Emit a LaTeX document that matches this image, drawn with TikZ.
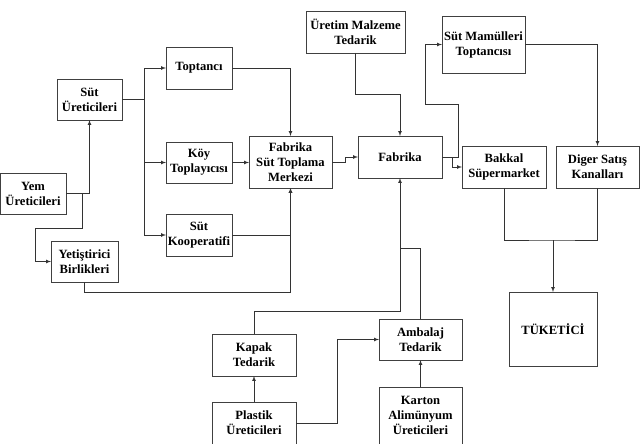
\documentclass[tikz,border=0pt]{standalone}
\usepackage{fontspec}
\setmainfont{Liberation Serif}
\usepackage{tkz-graph}
\usetikzlibrary{arrows}
\usetikzlibrary{shapes}

\begin{document}
\begin{tikzpicture}[x = 1pt, y = -1pt, >=latex]
	\tikzstyle{VertexStyle} = []
	\tikzstyle{EdgeStyle} = []
	\tikzstyle{boxStyle}=[shape = rectangle, draw = black!75, line width = 0.9pt, align = center, inner sep = 0pt, minimum width = 84pt, minimum height = 42pt, font = \fontsize{12.6}{15}\selectfont\bfseries]
	\tikzstyle{linkStyle}=[draw = black!80, line width = 0.7pt]
	\useasboundingbox (0,0) rectangle (643,444);
	\Vertex[style = {boxStyle, minimum width = 66pt, minimum height = 41pt}, x = 33, y = 193.5, L = {Yem\\Üreticileri}]{yem}
	\Vertex[style = {boxStyle, minimum width = 65pt, minimum height = 41pt}, x = 89.5, y = 99.5, L = {Süt\\Üreticileri}]{sut}
	\Vertex[style = {boxStyle, minimum width = 67pt, minimum height = 41pt}, x = 84.5, y = 261.5, L = {Yetiştirici\\Birlikleri}]{yet}
	\Vertex[style = {boxStyle, minimum width = 66pt}, x = 199, y = 68, L = {Toptancı}]{top}
	\Vertex[style = {boxStyle, minimum width = 66pt, minimum height = 41pt}, x = 199, y = 162.5, L = {Köy\\Toplayıcısı}]{koy}
	\Vertex[style = {boxStyle, minimum width = 66pt}, x = 199, y = 235, L = {Süt\\Kooperatifi}]{koop}
	\Vertex[style = {boxStyle, minimum width = 83pt, minimum height = 52pt}, x = 290.5, y = 162, L = {Fabrika\\Süt Toplama\\Merkezi}]{fstm}
	\Vertex[style = {boxStyle, minimum width = 99pt}, x = 355.5, y = 32, L = {Üretim Malzeme\\Tedarik}]{uret}
	\Vertex[style = {boxStyle}, x = 400, y = 157, L = {Fabrika}]{fab}
	\Vertex[style = {boxStyle, minimum width = 83pt, minimum height = 57pt}, x = 483.5, y = 44.5, L = {Süt Mamülleri\\Toptancısı}]{smt}
	\Vertex[style = {boxStyle}, x = 504, y = 167, L = {Bakkal\\Süpermarket}]{bak}
	\Vertex[style = {boxStyle, minimum width = 83pt}, x = 597.5, y = 167, L = {Diger Satış\\Kanalları}]{dig}
	\Vertex[style = {boxStyle, minimum width = 88pt, minimum height = 74pt}, x = 553, y = 329, L = {TÜKETİCİ}]{tuk}
	\Vertex[style = {boxStyle}, x = 254, y = 355, L = {Kapak\\Tedarik}]{kap}
	\Vertex[style = {boxStyle, minimum width = 83pt, minimum height = 41pt}, x = 420.5, y = 339.5, L = {Ambalaj\\Tedarik}]{amb}
	\Vertex[style = {boxStyle}, x = 254, y = 423, L = {Plastik\\Üreticileri}]{pla}
	\Vertex[style = {boxStyle, minimum width = 83pt, minimum height = 57pt}, x = 420.5, y = 415.5, L = {Karton\\Alimünyum\\Üreticileri}]{kar}
	% bend points
	\coordinate (sutJ) at (144,99.5);
	\coordinate (yemA) at (82,193.5);
	\coordinate (yemB) at (35,228);
	\coordinate (yetB) at (84.5,292);
	\coordinate (fstmJ) at (345,162);
	\coordinate (uretJ) at (355.5,94);
	\coordinate (fabA) at (458,104);
	\coordinate (fabB) at (425,104);
	\coordinate (fabC) at (452,157);
	\coordinate (sellJ) at (553,240);
	\coordinate (supJ) at (400,311);
	\coordinate (ambJ) at (400,248);
	\coordinate (plaJ) at (337,423);
	% links
	\draw[linkStyle, ->] (sut.east) -- (sutJ) |- (top.west);
	\draw[linkStyle, ->] (sutJ) |- (koy.west);
	\draw[linkStyle, ->] (sutJ) |- (koop.west);
	\draw[linkStyle, ->] (yem.east) -| (sut.south);
	\draw[linkStyle, ->] (yemA) |- (yemB) |- (yet.west);
	\draw[linkStyle, ->] (top.east) -| (fstm.north);
	\draw[linkStyle, ->] (koy.east) -- (koy.east -| fstm.west);
	\draw[linkStyle, ->] (koop.east) -| (fstm.south);
	\draw[linkStyle, ->] (yet.south) -- (yetB) -| (fstm.south);
	\draw[linkStyle, ->] (fstm.east) -- (fstmJ) |- (fab.west);
	\draw[linkStyle, ->] (uret.south) -- (uretJ) -| (fab.north);
	\draw[linkStyle, ->] (fab.east) -| (fabA) -- (fabB) |- (smt.west);
	\draw[linkStyle, ->] (fabC) |- (bak.west);
	\draw[linkStyle, ->] (smt.east) -| (dig.north);
	\draw[linkStyle] (bak.south) |- (sellJ) -| (dig.south);
	\draw[linkStyle, ->] (sellJ) -- (tuk.north);
	\draw[linkStyle, ->] (kap.north) |- (supJ) -- (fab.south);
	\draw[linkStyle] (amb.north) |- (ambJ);
	\draw[linkStyle, ->] (pla.north) -- (kap.south);
	\draw[linkStyle, ->] (pla.east) -- (plaJ) |- (amb.west);
	\draw[linkStyle, ->] (kar.north) -- (amb.south);
\end{tikzpicture}
\end{document}
